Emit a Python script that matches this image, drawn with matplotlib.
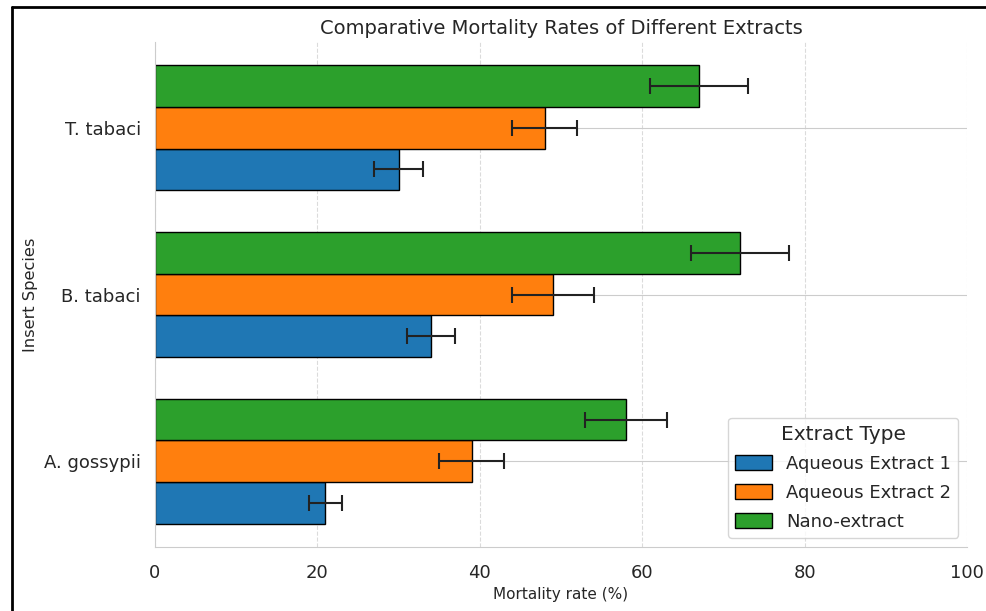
import numpy as np
import matplotlib.pyplot as plt
import seaborn as sns
from matplotlib.lines import Line2D

species = ["A. gossypii", "B. tabaci", "T. tabaci"]
extracts = ["Aqueous Extract 1", "Aqueous Extract 2", "Nano-extract"]

aqueous1 = [21, 34, 30]
aqueous2 = [39, 49, 48]
nano = [58, 72, 67]

aqueous1_err = [2, 3, 3]
aqueous2_err = [4, 5, 4]
nano_err = [5, 6, 6]

colors = ["#1f77b4", "#ff7f0e", "#2ca02c"]

sns.set_style("whitegrid")

fig = plt.figure(figsize=(9.86, 6.11), dpi=100)
ax = fig.add_axes([0.157, 0.105, 0.824, 0.826])

y = np.arange(len(species))
h = 0.25
series = [aqueous1, aqueous2, nano]
errs = [aqueous1_err, aqueous2_err, nano_err]
for i, (vals, err) in enumerate(zip(series, errs)):
    ax.barh(y + (i - 1) * h, vals, height=h, xerr=err, color=colors[i],
            edgecolor="black", linewidth=1, label=extracts[i], capsize=6,
            error_kw=dict(ecolor="#222222", elinewidth=1.5, capthick=1.5))

ax.set_yticks(y)
ax.set_yticklabels(species, fontsize=13)
ax.tick_params(axis="y", labelsize=13, pad=6.5)
ax.tick_params(axis="x", labelsize=13, pad=8.5)
ax.set_xlim(0, 100)
ax.set_xlabel("Mortality rate (%)", fontsize=11)
ax.set_ylabel("Insert Species", fontsize=11.7)
ax.set_title("Comparative Mortality Rates of Different Extracts", fontsize=14)
ax.grid(axis="x", linestyle="--", alpha=0.7)
ax.set_axisbelow(True)
sns.despine(ax=ax)

leg = ax.legend(title="Extract Type", loc="lower right", fontsize=13,
                title_fontsize=14.5, handleheight=0.85, labelspacing=0.6)

# border of the original screenshot
fig.add_artist(Line2D([12 / 986, 12 / 986], [0, 1 - 7 / 611], color="black", lw=2,
                      transform=fig.transFigure))
fig.add_artist(Line2D([12 / 986, 1], [1 - 7 / 611, 1 - 7 / 611], color="black", lw=2,
                      transform=fig.transFigure))

plt.savefig("out.png", dpi=100)
